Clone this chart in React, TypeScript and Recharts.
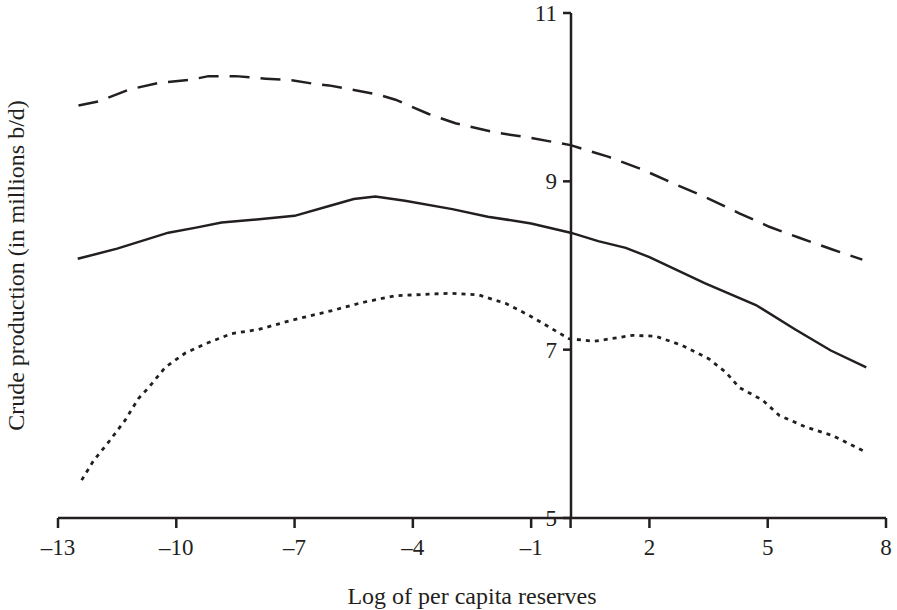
import { LineChart, Line, XAxis, YAxis } from "recharts"

// x: log of per capita reserves, y: crude production (millions b/d)
const solidX = [-12.5, -11.5, -10.2, -9.5, -8.85, -7.9, -7.0, -6.1, -5.5, -4.95, -4.2, -3.0, -2.1, -1.0, 0, 0.7, 1.4, 2.0, 3.4, 4.7, 5.7, 6.6, 7.5]
const solidY = [8.08, 8.2, 8.39, 8.45, 8.51, 8.55, 8.59, 8.71, 8.79, 8.82, 8.77, 8.67, 8.58, 8.5, 8.39, 8.29, 8.21, 8.1, 7.79, 7.53, 7.24, 6.99, 6.79]

const upperX = [-12.48, -11.97, -11.2, -10.45, -9.6, -9.18, -8.5, -7.73, -7.07, -6.39, -6.13, -4.87, -4.44, -3.6, -2.92, -1.9, -1.06, 0, 0.97, 1.82, 2.68, 3.43, 4.28, 5.04, 5.8, 6.64, 7.4]
const upperY = [9.9, 9.95, 10.09, 10.17, 10.21, 10.25, 10.25, 10.22, 10.2, 10.15, 10.14, 10.03, 9.97, 9.8, 9.69, 9.58, 9.52, 9.43, 9.29, 9.14, 8.96, 8.81, 8.62, 8.46, 8.33, 8.19, 8.07]

const lowerX = [-12.4, -12.1, -11.72, -11.3, -10.96, -10.7, -10.28, -9.77, -9.26, -8.6, -7.91, -7.07, -6.0, -5.29, -4.44, -3.6, -3.01, -2.33, -1.65, -1.06, -0.55, -0.04, 0.6, 1.57, 2.16, 2.83, 3.51, 3.94, 4.28, 4.87, 5.29, 5.97, 6.64, 7.5]
const lowerY = [5.45, 5.68, 5.9, 6.16, 6.42, 6.55, 6.79, 6.96, 7.07, 7.19, 7.24, 7.35, 7.47, 7.56, 7.64, 7.66, 7.67, 7.65, 7.55, 7.41, 7.27, 7.13, 7.1, 7.17, 7.16, 7.05, 6.89, 6.73, 6.55, 6.4, 6.22, 6.08, 5.98, 5.78]

const xTicks = [-13, -10, -7, -4, -1, 0, 2, 5, 8]
const yTicks = [5, 7, 9, 11]

const ink = "#231f20"
const font = "'Liberation Serif', 'Times New Roman', serif"
const W = 897
const H = 610

const toPoints = (xs: number[], ys: number[]) => xs.map((x, i) => ({ x, y: ys[i] }))

const formatX = (v: number) => (v === 0 ? "" : v < 0 ? "\u2013" + Math.abs(v) : String(v))

export default function App() {
  const tickStyle = { fontFamily: font, fontSize: 23, fill: ink }
  const titleStyle = { fontFamily: font, fontSize: 24, fill: ink }

  return (
    <div style={{ position: "absolute", left: 0, top: 0, width: W, height: H, background: "#fff" }}>
      <div style={{ position: "absolute", left: 0, top: 0 }}>
        <LineChart width={W} height={H} margin={{ top: 13, right: 11, left: 0, bottom: 0 }}>
          <XAxis
            type="number"
            dataKey="x"
            domain={[-13, 8]}
            ticks={xTicks}
            interval={0}
            tickFormatter={formatX}
            height={92}
            tickSize={10}
            tickMargin={11}
            stroke={ink}
            strokeWidth={2.5}
            tick={tickStyle}
            allowDataOverflow
            label={{
              value: "Log of per capita reserves",
              position: "insideBottom",
              offset: 6,
              style: titleStyle,
            }}
          />
          <YAxis
            type="number"
            domain={[5, 11]}
            ticks={yTicks}
            width={58}
            tick={false}
            tickLine={false}
            axisLine={false}
            allowDataOverflow
            label={({ viewBox }: any) => {
              const cx = viewBox.x + 16
              const cy = viewBox.y + viewBox.height / 2
              return (
                <text
                  x={cx}
                  y={cy}
                  transform={`rotate(-90 ${cx} ${cy})`}
                  textAnchor="middle"
                  dominantBaseline="central"
                  style={titleStyle}
                >
                  Crude production (in millions b/d)
                </text>
              )
            }}
          />
          <Line
            data={toPoints(upperX, upperY)}
            dataKey="y"
            type="linear"
            stroke={ink}
            strokeWidth={2.5}
            strokeDasharray="20 11"
            dot={false}
            isAnimationActive={false}
          />
          <Line
            data={toPoints(solidX, solidY)}
            dataKey="y"
            type="linear"
            stroke={ink}
            strokeWidth={2.5}
            dot={false}
            isAnimationActive={false}
          />
          <Line
            data={toPoints(lowerX, lowerY)}
            dataKey="y"
            type="linear"
            stroke={ink}
            strokeWidth={2.8}
            strokeDasharray="4 5"
            dot={false}
            isAnimationActive={false}
          />
        </LineChart>
      </div>
      {/* vertical axis drawn at x = 0, same vertical scale as the main plot */}
      <div style={{ position: "absolute", left: 0, top: 0, pointerEvents: "none" }}>
        <LineChart width={W} height={H} margin={{ top: 13, right: 11, left: 511, bottom: 92 }}>
          <XAxis type="number" dataKey="x" domain={[-13, 8]} hide />
          <YAxis
            type="number"
            domain={[5, 11]}
            ticks={yTicks}
            interval={0}
            width={60}
            tickSize={8}
            tickMargin={6}
            stroke={ink}
            strokeWidth={2.5}
            tick={tickStyle}
            allowDataOverflow
          />
        </LineChart>
      </div>
    </div>
  )
}
